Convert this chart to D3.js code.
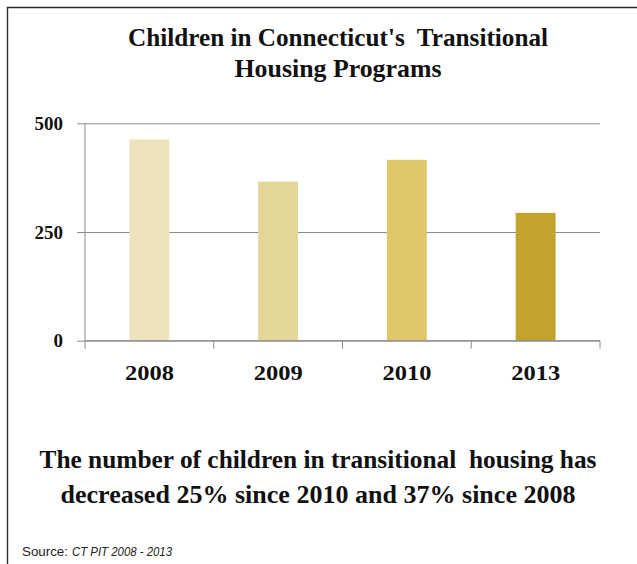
<!DOCTYPE html>
<html>
<head>
<meta charset="utf-8">
<script src="https://cdn.jsdelivr.net/npm/d3@7/dist/d3.min.js"></script>
<style>
  html, body { margin: 0; padding: 0; background: #ffffff; }
  svg { display: block; }
</style>
</head>
<body>
<script>
// Children in transitional housing, Connecticut Point-in-Time counts
const years = ["2008", "2009", "2010", "2013"];
const children = [463, 366, 416, 294];
const barColors = ["#ece3bc", "#e2d799", "#e0c76b", "#c3a32e"];
const yTicks = [0, 250, 500];
const titleLines = ["Children in Connecticut's  Transitional", "Housing Programs"];
const noteLines = ["The number of children in transitional  housing has",
                   "decreased 25% since 2010 and 37% since 2008"];

const W = 637, H = 564;
const serif = "'Liberation Serif', 'DejaVu Serif', serif";
const sans = "'Liberation Sans Narrow', 'Liberation Sans', sans-serif";

const svg = d3.select("body").append("svg")
  .attr("width", W).attr("height", H);

// outer frame (top and left edges)
svg.append("path")
  .attr("d", "M7.5,564 V7.5 H637")
  .attr("fill", "none").attr("stroke", "#2b2b2b").attr("stroke-width", 1.4);

const x = d3.scaleBand().domain(years).range([85, 600]).paddingInner(0.69).paddingOuter(0.345);
const y = d3.scaleLinear().domain([0, 500]).range([340.7, 123.3]);

// title
svg.append("g").selectAll("text").data(titleLines).join("text")
  .attr("x", 338).attr("y", (d, i) => 46 + i * 31)
  .attr("text-anchor", "middle")
  .attr("font-family", serif).attr("font-weight", "bold")
  .attr("font-size", 24.5).attr("fill", "#111")
  .attr("textLength", (d, i) => i === 0 ? 420 : 207)
  .attr("lengthAdjust", "spacingAndGlyphs")
  .style("white-space", "pre")
  .text(d => d);

// y axis with gridlines
const yAxis = svg.append("g")
  .attr("transform", "translate(85,0)")
  .call(d3.axisLeft(y).tickValues(yTicks).tickSize(-515).tickSizeOuter(0).tickPadding(22));
yAxis.select(".domain").remove();
yAxis.selectAll(".tick line").attr("stroke", "#8c8c8c").attr("x1", -8);
yAxis.selectAll(".tick text")
  .attr("font-family", serif).attr("font-weight", "bold")
  .attr("font-size", 19).attr("fill", "#111").attr("dy", "0.33em");
svg.append("line")
  .attr("x1", 85).attr("x2", 85).attr("y1", y(500)).attr("y2", y(0))
  .attr("stroke", "#8c8c8c");

// bars
svg.append("g").selectAll("rect").data(years).join("rect")
  .attr("x", d => x(d))
  .attr("width", x.bandwidth())
  .attr("y", (d, i) => y(children[i]))
  .attr("height", (d, i) => y(0) - y(children[i]))
  .attr("fill", (d, i) => barColors[i]);

// x axis: ticks sit on the category boundaries
const step = x.step();
const boundaries = d3.range(years.length + 1).map(i => 85 + i * step);
const xAxis = svg.append("g");
xAxis.append("line")
  .attr("x1", 85).attr("x2", 600).attr("y1", y(0)).attr("y2", y(0))
  .attr("stroke", "#8c8c8c");
xAxis.selectAll("line.tk").data(boundaries).join("line")
  .attr("class", "tk")
  .attr("x1", d => d).attr("x2", d => d)
  .attr("y1", y(0)).attr("y2", y(0) + 8)
  .attr("stroke", "#8c8c8c");
xAxis.selectAll("text").data(years).join("text")
  .attr("x", d => x(d) + x.bandwidth() / 2)
  .attr("y", 380)
  .attr("text-anchor", "middle")
  .attr("font-family", serif).attr("font-weight", "bold")
  .attr("font-size", 22).attr("fill", "#111")
  .attr("textLength", 49).attr("lengthAdjust", "spacingAndGlyphs")
  .text(d => d);

// note below chart
svg.append("g").selectAll("text").data(noteLines).join("text")
  .attr("x", 318).attr("y", (d, i) => 468 + i * 35)
  .attr("text-anchor", "middle")
  .attr("font-family", serif).attr("font-weight", "bold")
  .attr("font-size", 26).attr("fill", "#111")
  .attr("textLength", (d, i) => i === 0 ? 557 : 515)
  .attr("lengthAdjust", "spacingAndGlyphs")
  .style("white-space", "pre")
  .text(d => d);

// source line
svg.append("text")
  .attr("x", 22).attr("y", 556)
  .attr("font-family", sans).attr("font-size", 13.5).attr("fill", "#222")
  .attr("textLength", 46).attr("lengthAdjust", "spacingAndGlyphs")
  .text("Source:");
svg.append("text")
  .attr("x", 72).attr("y", 556)
  .attr("font-family", sans).attr("font-size", 13.5).attr("fill", "#222")
  .attr("font-style", "italic")
  .attr("textLength", 100).attr("lengthAdjust", "spacingAndGlyphs")
  .text("CT PIT 2008 - 2013");
</script>
</body>
</html>
